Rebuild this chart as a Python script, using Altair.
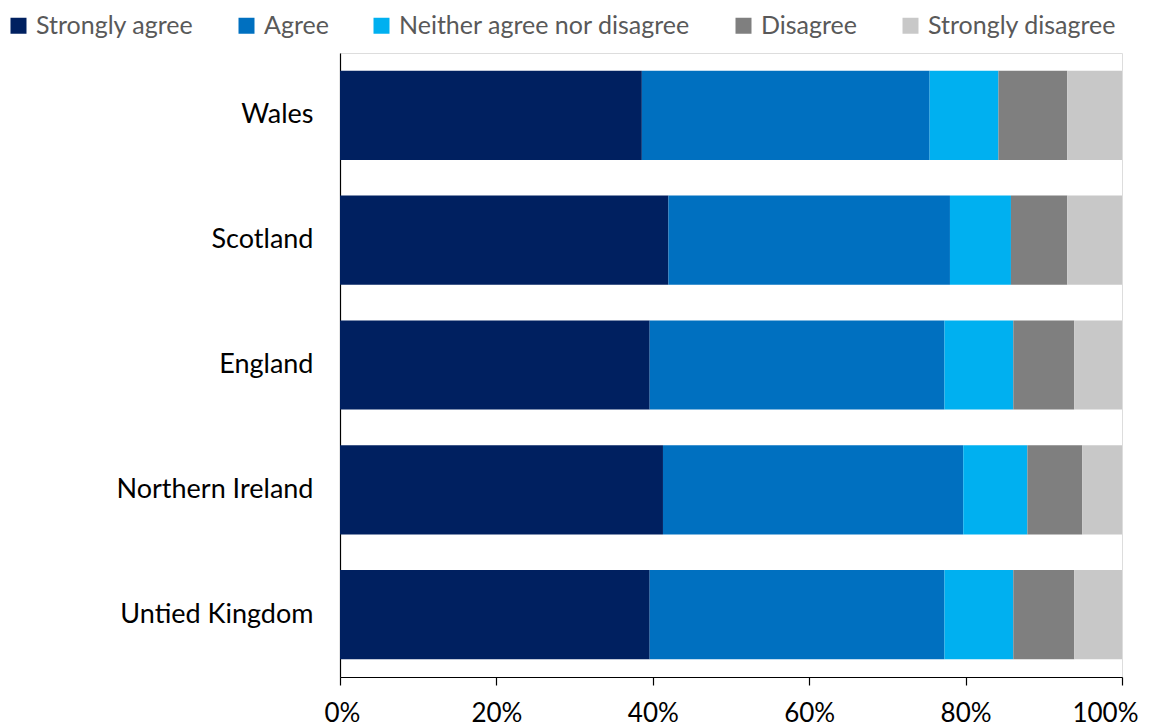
import altair as alt
import pandas as pd

regions = ["Wales", "Scotland", "England", "Northern Ireland", "Untied Kingdom"]
responses = ["Strongly agree", "Agree", "Neither agree nor disagree", "Disagree", "Strongly disagree"]
colors = ["#002060", "#0070C0", "#00B0F0", "#7F7F7F", "#C8C8C8"]

strongly_agree = [38.6, 42.0, 39.6, 41.3, 39.6]
agree = [36.8, 36.0, 37.7, 38.4, 37.7]
neither = [8.8, 7.8, 8.8, 8.2, 8.8]
disagree = [8.8, 7.2, 7.8, 7.0, 7.8]
strongly_disagree = [7.0, 7.0, 6.1, 5.1, 6.1]

series = [strongly_agree, agree, neither, disagree, strongly_disagree]
rows = []
for k, (resp, vals) in enumerate(zip(responses, series)):
    for reg, v in zip(regions, vals):
        rows.append({"region": reg, "response": resp, "value": v, "order": k})
df = pd.DataFrame(rows)

FONT = "Lato"

chart = alt.Chart(df).mark_bar().encode(
    y=alt.Y("region:N", sort=regions,
            scale=alt.Scale(paddingInner=0.285, paddingOuter=0.1425),
            axis=alt.Axis(title=None, ticks=False, domainColor="#000000", domainWidth=1.2,
                          labelFontSize=27, labelColor="#000000", labelPadding=27,
                          labelFont=FONT, labelLimit=400)),
    x=alt.X("value:Q", stack="zero",
            scale=alt.Scale(domain=[0, 100], nice=False),
            axis=alt.Axis(title=None, values=[0, 20, 40, 60, 80, 100], grid=False,
                          labelExpr="datum.value + '%'", domainColor="#000000", domainWidth=1.2,
                          tickColor="#000000", tickSize=8, tickWidth=1.2,
                          labelFontSize=26, labelColor="#000000", labelPadding=15,
                          labelFont=FONT, labelFlush=True, labelFlushOffset=16)),
    color=alt.Color("response:N", sort=responses,
                    scale=alt.Scale(domain=responses, range=colors),
                    legend=alt.Legend(orient="none", legendX=-334, legendY=-40,
                                      direction="horizontal", title=None,
                                      symbolType="square", symbolSize=256,
                                      symbolStrokeWidth=0, symbolOpacity=1,
                                      labelFontSize=25, labelColor="#595959",
                                      labelFont=FONT, labelOffset=5,
                                      columnPadding=40, labelLimit=400)),
    order=alt.Order("order:Q", sort="ascending"),
).properties(
    width=782, height=624,
    autosize=alt.AutoSizeParams(type="none"),
    padding={"left": 332, "top": 45, "right": 20, "bottom": 50},
).configure_view(stroke=None).configure(background="white")

chart.save("out.html", embed_options={"renderer": "svg", "actions": False})
